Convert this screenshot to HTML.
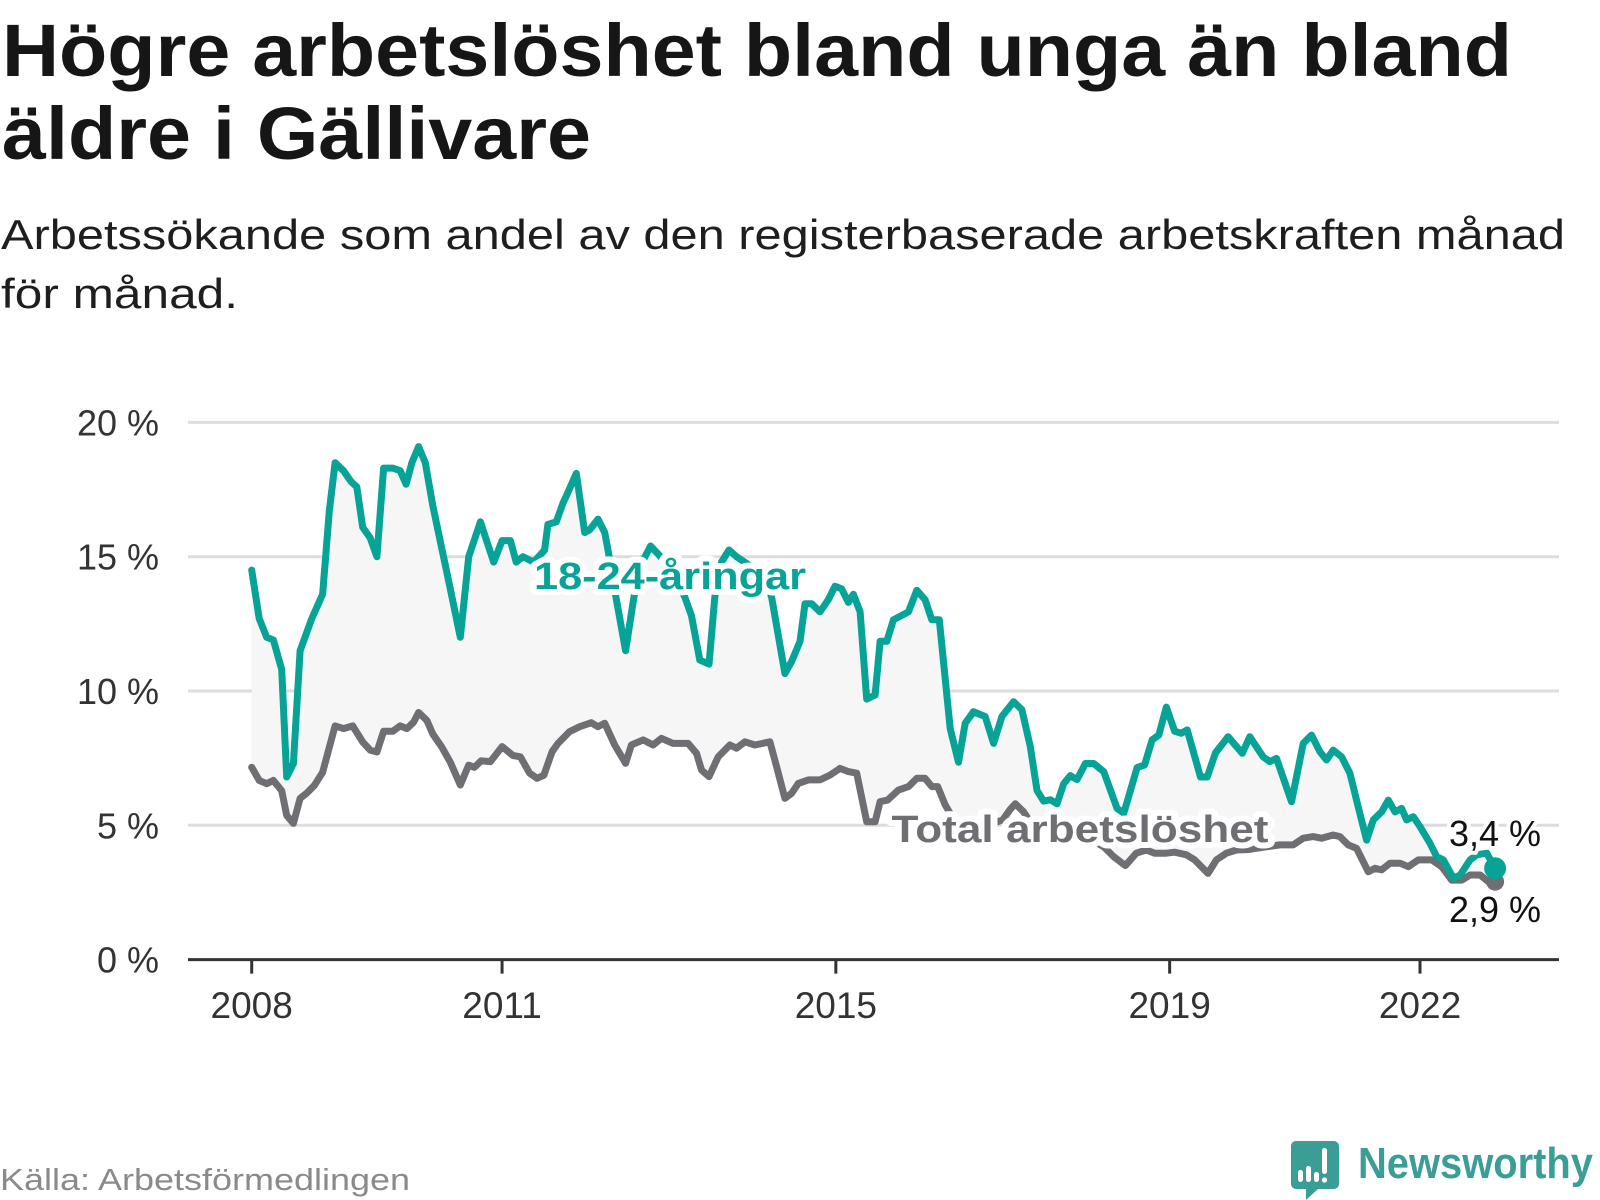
<!DOCTYPE html>
<html><head><meta charset="utf-8">
<style>
html,body{margin:0;padding:0;background:#fff;}
svg{display:block;}
text{font-family:"Liberation Sans",sans-serif;}
</style></head>
<body>
<svg id="chart" width="1600" height="1200" viewBox="0 0 1600 1200" xmlns="http://www.w3.org/2000/svg">
  <text x="2" y="76" font-size="74" font-weight="bold" fill="#161616" textLength="1510" lengthAdjust="spacingAndGlyphs">Högre arbetslöshet bland unga än bland</text>
  <text x="2" y="159" font-size="74" font-weight="bold" fill="#161616" textLength="589" lengthAdjust="spacingAndGlyphs">äldre i Gällivare</text>
  <text x="1" y="249" font-size="42" fill="#1e1e1e" textLength="1564" lengthAdjust="spacingAndGlyphs">Arbetssökande som andel av den registerbaserade arbetskraften månad</text>
  <text x="1" y="308" font-size="42" fill="#1e1e1e" textLength="237" lengthAdjust="spacingAndGlyphs">för månad.</text>
  <g id="grid"></g>
  <g id="yticks"></g>
  <path id="area" fill="#f6f6f7" stroke="none"/>
  <path id="totalLine" fill="none" stroke="#6f6e73" stroke-width="7" stroke-linejoin="round" stroke-linecap="round"/>
  <path id="youthLine" fill="none" stroke="#07a396" stroke-width="7" stroke-linejoin="round" stroke-linecap="round"/>
  <circle id="totalDot" r="9" fill="#6f6e73"/>
  <circle id="youthDot" r="11" fill="#07a396"/>
  <g id="xaxis"></g>
  <text x="670" y="589" font-size="38" font-weight="bold" fill="#07a396" text-anchor="middle" stroke="#fff" stroke-width="12" paint-order="stroke" stroke-linejoin="round" textLength="272" lengthAdjust="spacingAndGlyphs">18-24-åringar</text>
  <text x="1080" y="842" font-size="38" font-weight="bold" fill="#6f6e73" text-anchor="middle" stroke="#fff" stroke-width="12" paint-order="stroke" stroke-linejoin="round" textLength="377" lengthAdjust="spacingAndGlyphs">Total arbetslöshet</text>
  <text id="youthEnd" x="1541" y="846" font-size="36" fill="#111" text-anchor="end" stroke="#fff" stroke-width="8" paint-order="stroke">3,4 %</text>
  <text id="totalEnd" x="1541" y="922" font-size="36" fill="#111" text-anchor="end" stroke="#fff" stroke-width="8" paint-order="stroke">2,9 %</text>
  <text x="0" y="1190" font-size="31" fill="#8a8a8a" textLength="410" lengthAdjust="spacingAndGlyphs">Källa: Arbetsförmedlingen</text>
  <g>
    <path d="M1296 1141 h38 a5 5 0 0 1 5 5 v38 a5 5 0 0 1 -5 5 h-16 l-12 11 v-11 h-10 a5 5 0 0 1 -5 -5 v-38 a5 5 0 0 1 5 -5z" fill="#3a9e96"/>
    <rect x="1298" y="1170" width="5" height="12" rx="2.5" fill="#fff"/>
    <rect x="1306" y="1166" width="5" height="16" rx="2.5" fill="#fff"/>
    <rect x="1314" y="1172" width="5" height="10" rx="2.5" fill="#fff"/>
    <rect x="1322" y="1148" width="5" height="26" rx="2.5" fill="#fff"/>
    <circle cx="1324.5" cy="1180" r="2.6" fill="#fff"/>
    <text x="1358" y="1178" font-size="44" font-weight="bold" fill="#3a9e96" textLength="235" lengthAdjust="spacingAndGlyphs">Newsworthy</text>
  </g>
</svg>
<script>
const yTickValues = [0, 5, 10, 15, 20];
const yTickLabels = ["0 %", "5 %", "10 %", "15 %", "20 %"];
const xTickYears = [2008, 2011, 2015, 2019, 2022];
const xTickLabels = ["2008", "2011", "2015", "2019", "2022"];

const youthDates = [2008.00,2008.09,2008.18,2008.26,2008.36,2008.42,2008.50,2008.58,2008.72,2008.85,2008.93,2009.00,2009.10,2009.19,2009.26,2009.33,2009.42,2009.50,2009.58,2009.69,2009.78,2009.85,2009.92,2010.00,2010.08,2010.17,2010.38,2010.50,2010.60,2010.74,2010.90,2011.00,2011.10,2011.17,2011.25,2011.38,2011.51,2011.55,2011.65,2011.73,2011.79,2011.89,2011.99,2012.05,2012.15,2012.23,2012.27,2012.37,2012.48,2012.58,2012.68,2012.78,2012.90,2013.05,2013.19,2013.27,2013.37,2013.48,2013.55,2013.63,2013.72,2013.81,2014.00,2014.15,2014.23,2014.39,2014.47,2014.57,2014.63,2014.71,2014.81,2014.91,2014.99,2015.07,2015.15,2015.21,2015.29,2015.37,2015.47,2015.53,2015.61,2015.69,2015.87,2015.97,2016.07,2016.15,2016.24,2016.37,2016.47,2016.55,2016.65,2016.79,2016.89,2016.99,2017.13,2017.23,2017.33,2017.41,2017.49,2017.57,2017.65,2017.73,2017.81,2017.89,2017.99,2018.09,2018.21,2018.37,2018.45,2018.61,2018.70,2018.79,2018.87,2018.96,2019.06,2019.14,2019.21,2019.37,2019.45,2019.55,2019.70,2019.87,2019.96,2020.12,2020.20,2020.28,2020.46,2020.60,2020.70,2020.80,2020.88,2020.96,2021.06,2021.16,2021.26,2021.36,2021.44,2021.54,2021.62,2021.70,2021.78,2021.84,2021.92,2022.00,2022.12,2022.20,2022.28,2022.40,2022.48,2022.60,2022.68,2022.80,2022.90];
const youthValues = [14.5,12.7,12.0,11.9,10.8,6.8,7.3,11.5,12.7,13.6,16.7,18.5,18.2,17.8,17.6,16.1,15.7,15.0,18.3,18.3,18.2,17.7,18.5,19.1,18.5,16.9,13.8,12.0,15.0,16.3,14.8,15.6,15.6,14.8,15.0,14.8,15.25,16.2,16.3,17.0,17.4,18.1,15.9,16.0,16.4,15.9,15.25,13.4,11.5,13.5,14.8,15.4,15.0,14.3,13.5,12.8,11.15,11.0,13.5,14.8,15.25,15.0,14.6,14.2,13.5,10.65,11.1,11.85,13.25,13.25,12.95,13.4,13.9,13.8,13.3,13.6,12.95,9.7,9.85,11.85,11.85,12.65,12.95,13.75,13.4,12.65,12.65,8.6,7.35,8.8,9.23,9.05,8.05,9.05,9.6,9.3,7.93,6.3,5.9,5.95,5.8,6.55,6.85,6.7,7.3,7.3,7.0,5.63,5.45,7.15,7.25,8.18,8.36,9.4,8.5,8.43,8.55,6.8,6.8,7.7,8.3,7.68,8.3,7.55,7.37,7.49,5.88,8.05,8.36,7.74,7.43,7.8,7.55,6.94,5.69,4.45,5.2,5.5,5.94,5.5,5.63,5.2,5.32,4.95,4.33,3.83,3.71,3.03,3.15,3.71,3.9,3.96,3.4];

const totalDates = [2008.00,2008.09,2008.18,2008.26,2008.36,2008.42,2008.50,2008.58,2008.66,2008.75,2008.85,2008.93,2009.00,2009.10,2009.21,2009.33,2009.42,2009.50,2009.58,2009.69,2009.78,2009.86,2009.94,2010.00,2010.10,2010.17,2010.28,2010.38,2010.50,2010.60,2010.67,2010.75,2010.86,2011.00,2011.13,2011.22,2011.33,2011.42,2011.50,2011.60,2011.67,2011.81,2011.93,2012.07,2012.15,2012.23,2012.35,2012.48,2012.55,2012.69,2012.81,2012.91,2013.05,2013.23,2013.33,2013.39,2013.48,2013.59,2013.73,2013.81,2013.91,2014.03,2014.21,2014.29,2014.39,2014.47,2014.55,2014.67,2014.81,2014.93,2015.05,2015.15,2015.25,2015.37,2015.47,2015.53,2015.62,2015.75,2015.87,2015.97,2016.07,2016.15,2016.22,2016.31,2016.45,2016.60,2016.80,2017.00,2017.09,2017.15,2017.25,2017.40,2017.55,2017.75,2017.95,2018.10,2018.21,2018.33,2018.47,2018.60,2018.72,2018.82,2018.96,2019.06,2019.20,2019.30,2019.46,2019.56,2019.68,2019.80,2019.95,2020.05,2020.16,2020.32,2020.48,2020.60,2020.72,2020.82,2020.96,2021.04,2021.14,2021.24,2021.38,2021.46,2021.54,2021.64,2021.76,2021.86,2021.98,2022.14,2022.26,2022.38,2022.50,2022.60,2022.72,2022.82,2022.90];
const totalValues = [7.16,6.67,6.55,6.67,6.29,5.37,5.07,6.0,6.2,6.48,6.97,7.9,8.7,8.6,8.7,8.1,7.8,7.73,8.5,8.5,8.7,8.6,8.84,9.2,8.9,8.4,7.9,7.35,6.5,7.24,7.16,7.4,7.37,7.93,7.6,7.55,6.94,6.75,6.86,7.74,8.05,8.49,8.67,8.82,8.67,8.8,7.99,7.31,7.99,8.18,7.99,8.24,8.05,8.05,7.68,7.06,6.81,7.55,7.99,7.87,8.11,7.99,8.11,7.18,6.0,6.19,6.56,6.69,6.69,6.87,7.12,7.0,6.94,5.13,5.13,5.88,5.94,6.31,6.44,6.75,6.75,6.44,6.44,5.76,5.0,4.9,5.0,5.2,5.6,5.8,5.5,4.8,4.5,4.4,4.5,4.4,4.2,3.83,3.5,3.96,4.08,3.96,3.96,4.0,3.9,3.71,3.21,3.71,3.96,4.08,4.1,4.15,4.2,4.27,4.27,4.52,4.58,4.52,4.64,4.58,4.27,4.14,3.27,3.4,3.34,3.59,3.59,3.46,3.71,3.71,3.46,2.96,2.96,3.15,3.15,2.9,2.9];

const NS = "http://www.w3.org/2000/svg";
const X0 = 251.7, PX_PER_YEAR = 83.45, Y0 = 959.6, PX_PER_PCT = 26.86;
function xScale(yr){ return X0 + (yr - 2008) * PX_PER_YEAR; }
function yScale(v){ return Y0 - v * PX_PER_PCT; }

const grid = document.getElementById('grid');
const yt = document.getElementById('yticks');
yTickValues.forEach((v, i) => {
  if (v !== 0) {
    const l = document.createElementNS(NS, 'line');
    
    
    l.setAttribute('x1', 188); l.setAttribute('x2', 1559);
    l.setAttribute('y1', yScale(v)); l.setAttribute('y2', yScale(v));
    l.setAttribute('stroke', '#dddddd'); l.setAttribute('stroke-width', 3);
    grid.appendChild(l);
  }
  const t = document.createElementNS(NS, 'text');
  
  
  t.setAttribute('x', 159); t.setAttribute('y', yScale(v) + 13);
  t.setAttribute('text-anchor', 'end'); t.setAttribute('font-size', 36);
  t.setAttribute('fill', '#333');
  t.textContent = yTickLabels[i];
  yt.appendChild(t);
});

const xa = document.getElementById('xaxis');
const axis = document.createElementNS(NS, 'line');


axis.setAttribute('x1', 188); axis.setAttribute('x2', 1559);
axis.setAttribute('y1', Y0); axis.setAttribute('y2', Y0);
axis.setAttribute('stroke', '#333'); axis.setAttribute('stroke-width', 3);
xa.appendChild(axis);
xTickYears.forEach((yr, i) => {
  const tk = document.createElementNS(NS, 'line');
  
  
  tk.setAttribute('x1', xScale(yr)); tk.setAttribute('x2', xScale(yr));
  tk.setAttribute('y1', Y0); tk.setAttribute('y2', Y0 + 14);
  tk.setAttribute('stroke', '#333'); tk.setAttribute('stroke-width', 3);
  xa.appendChild(tk);
  const t = document.createElementNS(NS, 'text');
  
  
  t.setAttribute('x', xScale(yr)); t.setAttribute('y', 1018);
  t.setAttribute('text-anchor', 'middle'); t.setAttribute('font-size', 37);
  t.setAttribute('fill', '#333');
  t.textContent = xTickLabels[i];
  xa.appendChild(t);
});

function pts(dates, vals){ return dates.map((d, i) => [xScale(d), yScale(vals[i])]); }
const yp = pts(youthDates, youthValues), tp = pts(totalDates, totalValues);
const toD = p => p.map((q, i) => (i ? 'L' : 'M') + q[0].toFixed(1) + ' ' + q[1].toFixed(1)).join(' ');
document.getElementById('youthLine').setAttribute('d', toD(yp));
document.getElementById('totalLine').setAttribute('d', toD(tp));
document.getElementById('area').setAttribute('d', toD(yp) + ' ' + tp.slice().reverse().map(q => 'L' + q[0].toFixed(1) + ' ' + q[1].toFixed(1)).join(' ') + ' Z');
const ye = yp[yp.length - 1], te = tp[tp.length - 1];
const yd = document.getElementById('youthDot'); yd.setAttribute('cx', ye[0]); yd.setAttribute('cy', ye[1]);
const td = document.getElementById('totalDot'); td.setAttribute('cx', te[0]); td.setAttribute('cy', te[1]);
</script>
</body></html>
